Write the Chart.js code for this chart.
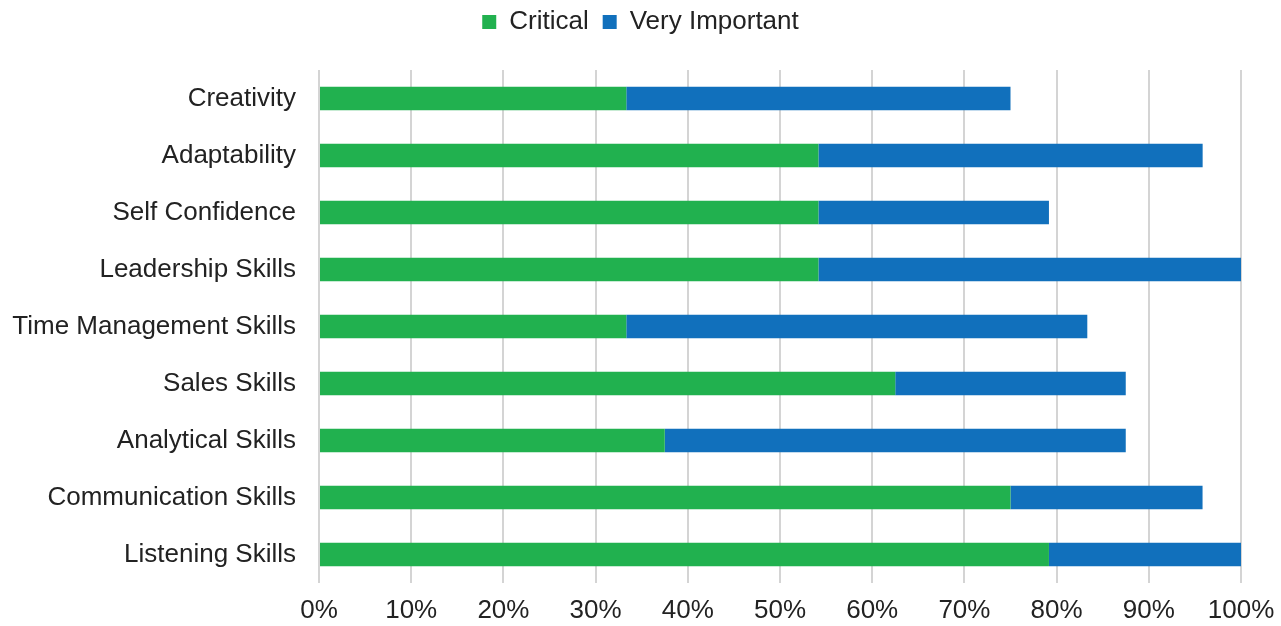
<!DOCTYPE html>
<html>
<head>
<meta charset="utf-8">
<script src="https://cdn.jsdelivr.net/npm/chart.js@4"></script>
<style>
html,body{margin:0;padding:0;background:#fff;}
#wrap{width:1281px;height:626px;}
</style>
</head>
<body>
<div id="wrap"><canvas id="c" width="1281" height="626"></canvas></div>
<script>
const categories = ["Creativity","Adaptability","Self Confidence","Leadership Skills","Time Management Skills","Sales Skills","Analytical Skills","Communication Skills","Listening Skills"];
const critical = [33.33,54.17,54.17,54.17,33.33,62.5,37.5,75,79.17];
const veryImportant = [41.67,41.67,25,45.83,50,25,50,20.83,20.83];
const xTicks = [0,10,20,30,40,50,60,70,80,90,100];

const FONT = "'Liberation Sans', Arial, sans-serif";

const legendSpacer = {
  id: 'legendSpacer',
  beforeInit(chart) {
    const lg = chart.legend;
    const origFit = lg.fit;
    lg.fit = function () {
      origFit.call(this);
      this.height += 20;
    };
    const origDraw = lg.draw;
    lg.draw = function () {
      const ctx = this.ctx;
      ctx.save();
      ctx.translate(0, -5);
      origDraw.call(this);
      ctx.restore();
    };
  }
};

new Chart(document.getElementById('c'), {
  type: 'bar',
  data: {
    labels: categories,
    datasets: [
      {label: 'Critical', data: critical, backgroundColor: '#21b14f', borderWidth: 0},
      {label: 'Very Important', data: veryImportant, backgroundColor: '#1170bc', borderWidth: 0}
    ]
  },
  plugins: [legendSpacer],
  options: {
    indexAxis: 'y',
    responsive: false,
    animation: false,
    devicePixelRatio: 1,
    layout: {padding: {left: 0, right: 0, top: 0, bottom: 0}},
    datasets: {bar: {barPercentage: 0.82, categoryPercentage: 0.5}},
    plugins: {
      legend: {
        position: 'top',
        labels: {
          font: {family: FONT, size: 26},
          color: '#222',
          boxWidth: 14, boxHeight: 14, padding: 14
        }
      },
      tooltip: {enabled: false}
    },
    scales: {
      x: {
        stacked: true,
        min: 0, max: 100,
        afterBuildTicks: (ax) => { ax.ticks = xTicks.map(v => ({value: v})); },
        afterFit: (s) => { s.height = 43; s.paddingRight = 40; },
        ticks: {
          callback: v => v + '%',
          font: {family: FONT, size: 26},
          color: '#222', padding: 12, maxRotation: 0
        },
        grid: {color: '#d4d4d4', lineWidth: 2, drawTicks: false},
        border: {display: false}
      },
      y: {
        stacked: true,
        afterFit: (s) => { s.width = 319; },
        ticks: {
          font: {family: FONT, size: 26},
          color: '#222', padding: 23
        },
        grid: {display: false, drawTicks: false},
        border: {display: false}
      }
    }
  }
});
</script>
</body>
</html>
